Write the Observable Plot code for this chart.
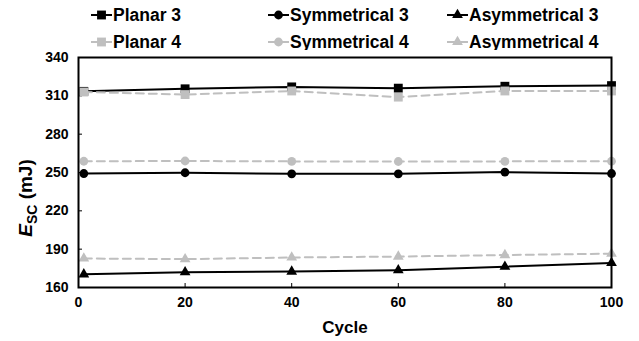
<!DOCTYPE html>
<html><head><meta charset="utf-8">
<script src="https://cdn.jsdelivr.net/npm/d3@7"></script>
<script src="https://cdn.jsdelivr.net/npm/@observablehq/plot@0.6"></script>
<style>
body{margin:0;background:#fff;font-family:"Liberation Sans",Arial,sans-serif;}
#wrap{position:relative;width:639px;height:341px;overflow:hidden;}
#legend{position:absolute;left:0;top:0;width:639px;height:56px;}
.item{position:absolute;display:flex;align-items:center;font-weight:bold;font-size:17.5px;color:#000;white-space:nowrap;}
.item svg{margin-right:1px;}
#chart{position:absolute;left:0;top:50px;}
</style></head>
<body><div id="wrap"><div id="legend"></div><div id="chart"></div></div>
<script>
const cycles = [1, 20, 40, 60, 80, 100];
const planar3 = [313.5, 315.5, 317, 316, 317.5, 318];
const symmetrical3 = [249.2, 249.8, 249, 249, 250.3, 249.2];
const asymmetrical3 = [170.3, 172, 172.5, 173.5, 176.3, 179.2];
const planar4 = [313, 311, 313.8, 309, 313.8, 313.8];
const symmetrical4 = [258.8, 259, 258.7, 258.6, 258.7, 258.8];
const asymmetrical4 = [182.7, 182.2, 183.5, 184.2, 185.4, 186.5];
const seriesNames = ["Planar 3", "Symmetrical 3", "Asymmetrical 3", "Planar 4", "Symmetrical 4", "Asymmetrical 4"];
const xTicks = [0, 20, 40, 60, 80, 100];
const yTicks = [160, 190, 220, 250, 280, 310, 340];

const seriesValues = [planar3, symmetrical3, asymmetrical3, planar4, symmetrical4, asymmetrical4];
const styles = [
  {color:"#000", dash:null, symbol:"square", r:5},
  {color:"#000", dash:null, symbol:"circle", r:4.4},
  {color:"#000", dash:null, symbol:"triangle", r:4},
  {color:"#bfbfbf", dash:"8,5", symbol:"square", r:5},
  {color:"#bfbfbf", dash:"8,5", symbol:"circle", r:4.4},
  {color:"#bfbfbf", dash:"8,5", symbol:"triangle", r:4}
];
const rows = [];
seriesNames.forEach((s, i) => cycles.forEach((c, j) => rows.push({series: s, cycle: c, value: seriesValues[i][j]})));

const marks = [];
seriesNames.forEach((s, i) => {
  const st = styles[i];
  const data = rows.filter(d => d.series === s);
  marks.push(Plot.line(data, {x:"cycle", y:"value", stroke: st.color, strokeWidth: 2, strokeDasharray: st.dash}));
  marks.push(Plot.dot(data, {x:"cycle", y:"value", fill: st.color, symbol: st.symbol, r: st.r}));
});

const plot = Plot.plot({
  width: 639, height: 291,
  marginLeft: 78, marginRight: 28, marginTop: 7, marginBottom: 54,
  style: {fontFamily: '"Liberation Sans", Arial, sans-serif', fontSize: "14px", fontWeight: "bold", color: "#000", background: "#fff"},
  x: {domain: [0, 100], ticks: xTicks, label: null},
  y: {domain: [160, 340], ticks: yTicks, label: null},
  marks: [
    Plot.axisX({ticks: xTicks, tickSize: -4, tickPadding: 14, label: null, fontSize: 14, fontWeight: "bold"}),
    Plot.axisY({ticks: yTicks, tickSize: -4, tickPadding: 14, label: null, fontSize: 14, fontWeight: "bold"}),
    ...marks,
    Plot.frame({stroke: "#000", strokeWidth: 2})
  ]
});
document.getElementById("chart").appendChild(plot);

const svg = d3.select(plot);
svg.append("text").attr("x", 345).attr("y", 283).attr("text-anchor", "middle")
  .style("font-size", "17px").style("font-weight", "bold").text("Cycle");
const yl = svg.append("text").attr("transform", "translate(32,148) rotate(-90)").attr("text-anchor", "middle")
  .style("font-size", "19px").style("font-weight", "bold");
yl.append("tspan").style("font-style", "italic").text("E");
yl.append("tspan").attr("dy", 5).style("font-size", "14px").text("SC");
yl.append("tspan").attr("dy", -5).text(" (mJ)");

// legend
const legend = document.getElementById("legend");
const lx = [91, 268, 447], ly = [15, 42];
seriesNames.forEach((s, i) => {
  const st = styles[i];
  const div = document.createElement("div");
  div.className = "item";
  div.style.left = lx[i % 3] + "px";
  div.style.top = (ly[Math.floor(i / 3)] - 10) + "px";
  div.style.height = "20px";
  const sw = d3.create("svg").attr("width", 21).attr("height", 20);
  sw.append("line").attr("x1", 0).attr("x2", 21).attr("y1", 10).attr("y2", 10)
    .attr("stroke", st.color).attr("stroke-width", 2);
  const sym = {square: d3.symbolSquare, circle: d3.symbolCircle, triangle: d3.symbolTriangle}[st.symbol];
  sw.append("path").attr("transform", "translate(10.5,10)")
    .attr("d", d3.symbol(sym, Math.PI * st.r * st.r)()).attr("fill", st.color);
  div.appendChild(sw.node());
  const t = document.createElement("span");
  t.textContent = s;
  div.appendChild(t);
  legend.appendChild(div);
});
</script></body></html>
